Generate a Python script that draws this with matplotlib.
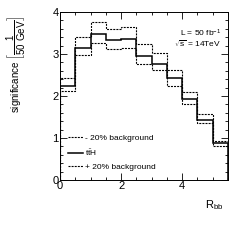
import numpy as np
import matplotlib.pyplot as plt
from matplotlib.ticker import MultipleLocator

plt.rcParams['font.family'] = ['Liberation Sans', 'DejaVu Sans']
plt.rcParams['mathtext.fontset'] = 'custom'
plt.rcParams['mathtext.rm'] = 'Liberation Sans'
plt.rcParams['mathtext.it'] = 'Liberation Sans'

edges = np.arange(0, 5.51, 0.5)
tth = [2.25, 3.15, 3.47, 3.33, 3.37, 2.95, 2.77, 2.44, 1.94, 1.43, 0.87]
minus20 = [2.42, 3.41, 3.77, 3.60, 3.64, 3.23, 3.03, 2.63, 2.10, 1.58, 0.93]
plus20 = [2.13, 2.97, 3.27, 3.13, 3.15, 2.77, 2.61, 2.25, 1.80, 1.35, 0.81]

fig = plt.figure(figsize=(2.41, 2.41), dpi=100)
ax = fig.add_axes([0.249, 0.253, 0.697, 0.697])

dash = (0, (1.8, 1.0))
ax.stairs(minus20, edges, color='black', lw=0.8, ls=dash, label='- 20% background')
ax.stairs(tth, edges, color='black', lw=1.1, label=r'$\mathrm{t\bar{t}H}$')
ax.stairs(plus20, edges, color='black', lw=0.8, ls=dash, label='+ 20% background')

ax.set_xlim(0, 5.5)
ax.set_ylim(0, 4)
ax.xaxis.set_major_locator(MultipleLocator(2))
ax.xaxis.set_minor_locator(MultipleLocator(0.5))
ax.yaxis.set_major_locator(MultipleLocator(1))
ax.yaxis.set_minor_locator(MultipleLocator(0.2))
ax.tick_params(which='both', direction='in', top=True, right=True,
               labelsize=8, width=0.6, pad=1)
ax.tick_params(which='major', length=5)
ax.tick_params(which='minor', length=2.5)
for s in ax.spines.values():
    s.set_linewidth(0.7)

ax.legend(loc='lower left', bbox_to_anchor=(0.03, 0.035), frameon=False,
          fontsize=6, handlelength=1.8, handletextpad=0.2, labelspacing=0.65,
          borderaxespad=0)

ax.text(0.96, 0.875, r'L = 50 fb$^{-1}$', transform=ax.transAxes,
        ha='right', va='center', fontsize=6)
ax.text(0.96, 0.81, r'$\sqrt{\mathrm{s}}$ = 14TeV', transform=ax.transAxes,
        ha='right', va='center', fontsize=6)

fig.text(0.89, 0.15, r'R$_{\mathrm{bb}}$', ha='center', va='center', fontsize=8)
fig.text(0.07, 0.735, r'significance $\left[\dfrac{1}{\mathrm{50\ GeV}}\right]$',
         rotation=90, ha='center', va='center', fontsize=7)

fig.savefig('out.png', dpi=100)
